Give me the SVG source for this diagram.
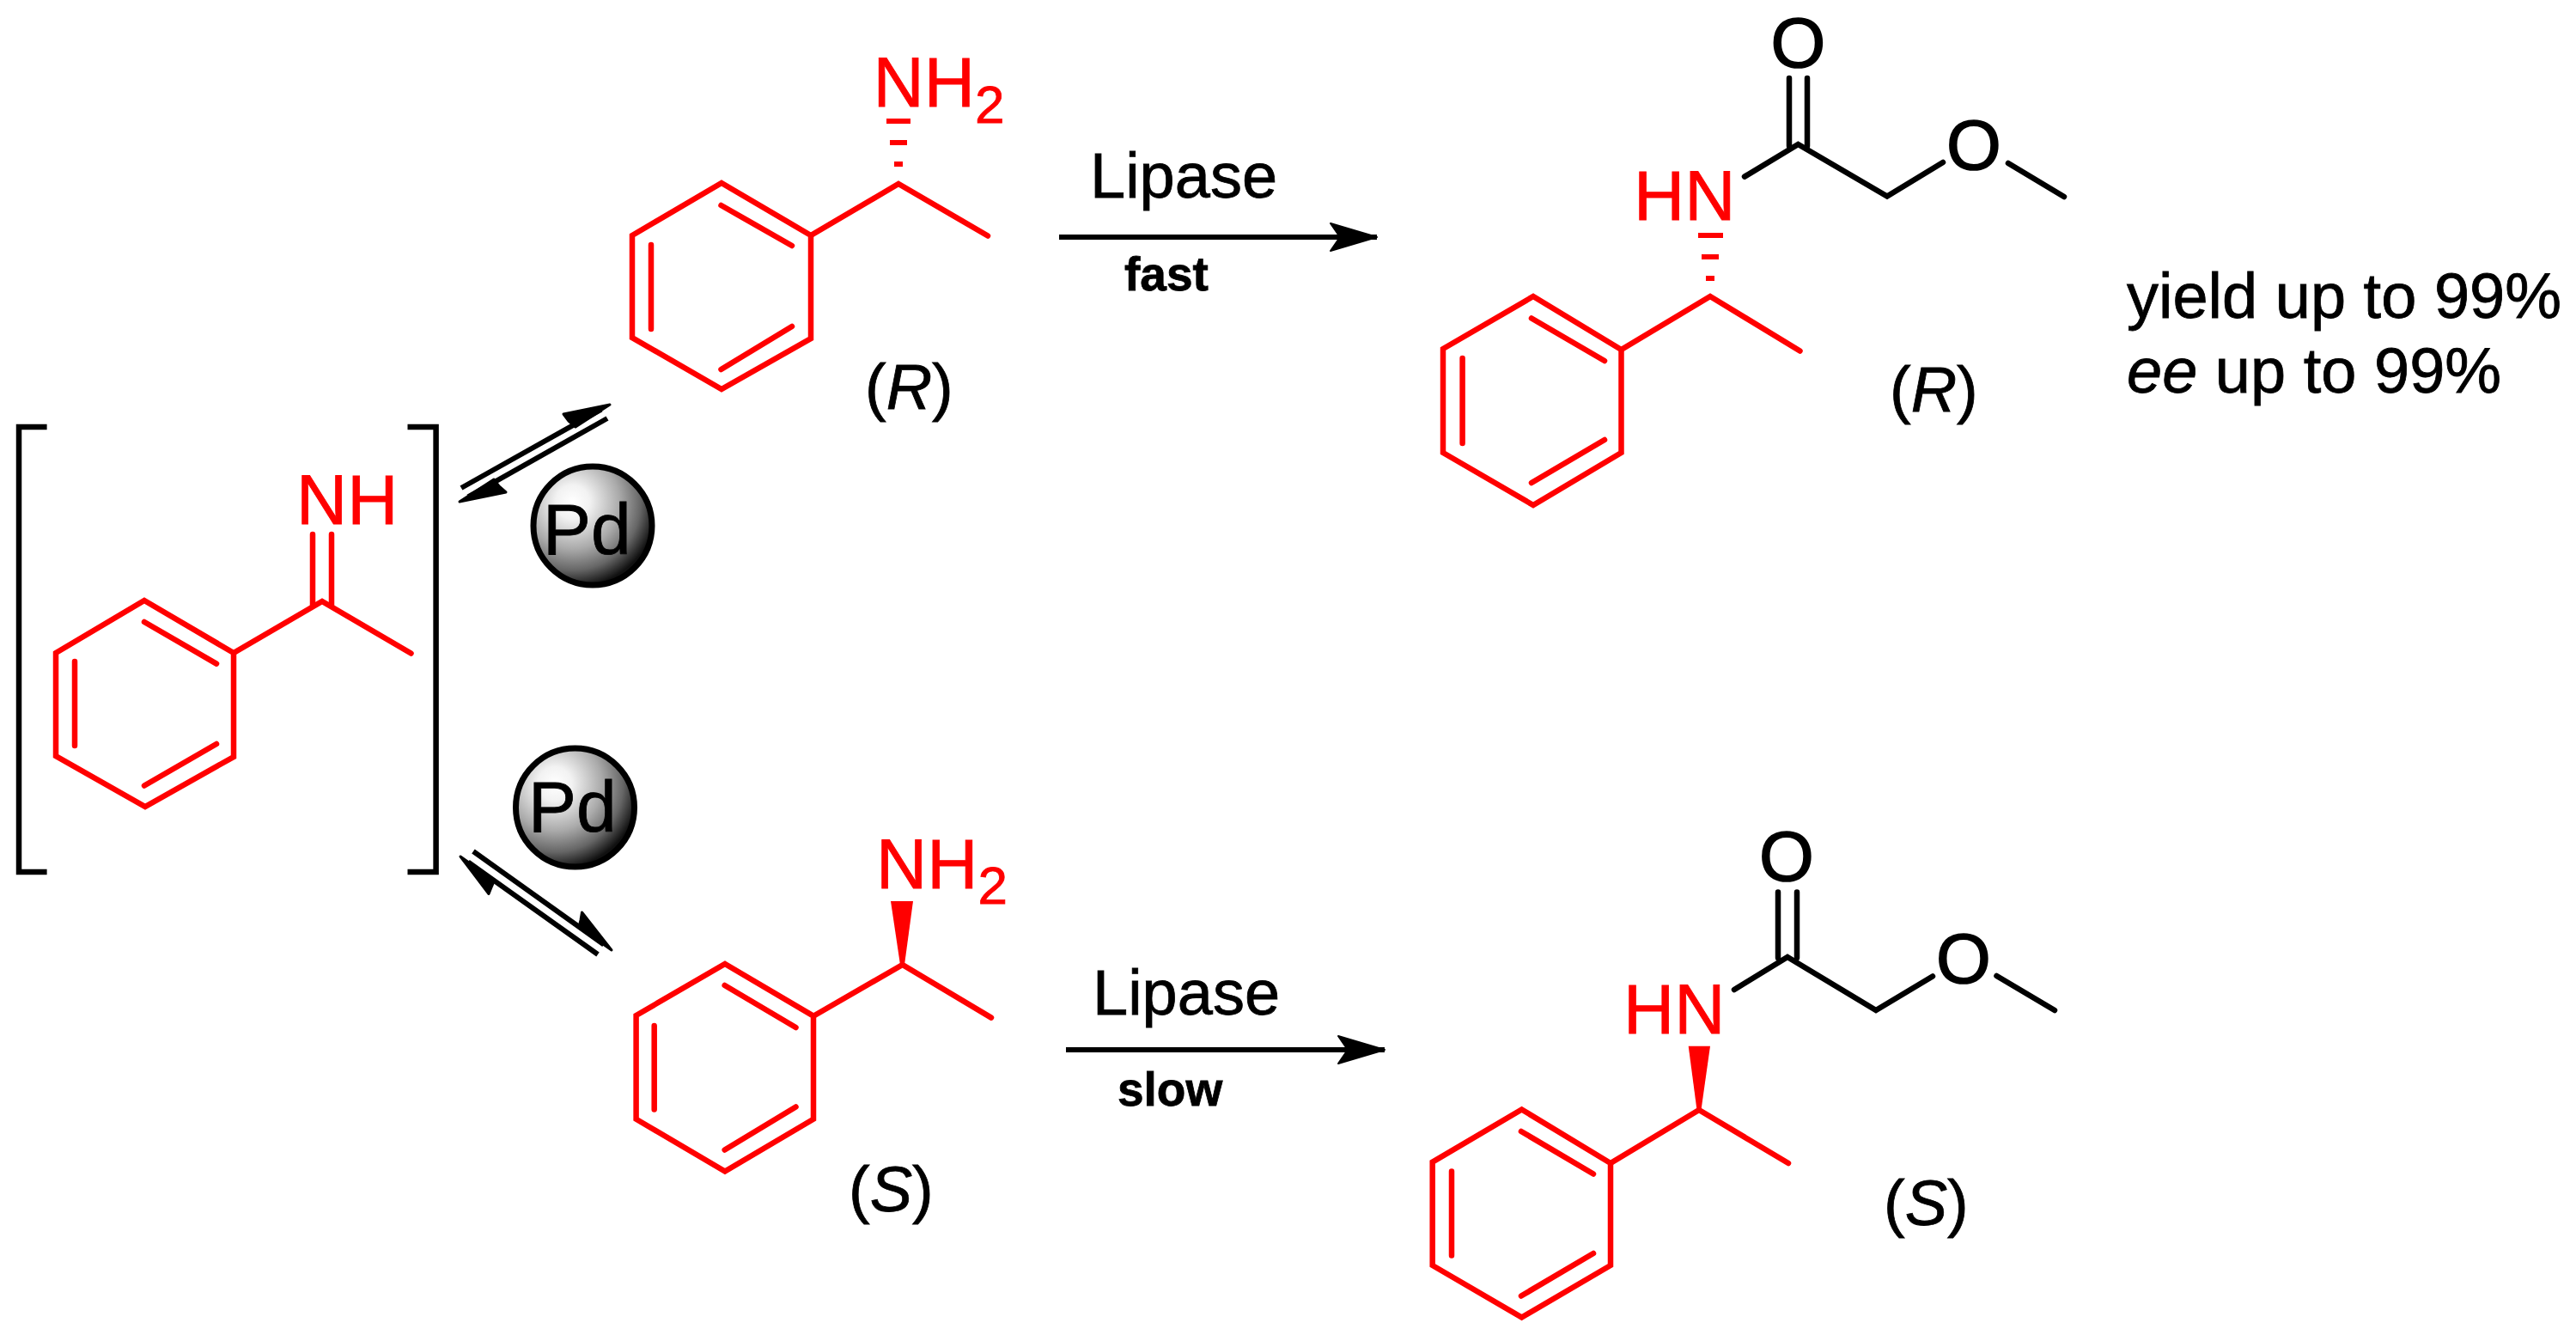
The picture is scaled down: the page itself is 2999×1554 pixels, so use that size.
<svg xmlns="http://www.w3.org/2000/svg" width="2999" height="1554" viewBox="0 0 2999 1554">
<style>
text{font-family:"Liberation Sans",Arial,sans-serif;font-size:74px;fill:#000;stroke:#000;stroke-width:0.8px}
.r{fill:none;stroke:#f00;stroke-width:6.5;stroke-linejoin:miter;stroke-linecap:round}
.k{fill:none;stroke:#000;stroke-width:6.5;stroke-linecap:round;stroke-linejoin:miter}
text.a{font-size:82px;fill:#f00;stroke:#f00}
text.o{font-size:82px;stroke-width:1.6px}
.s{font-size:62px}
.w{fill:#f00;stroke:none}
text.b{font-weight:bold;font-size:55px}
text.y{font-size:74px}
.br{fill:none;stroke:#000;stroke-width:6.5;stroke-linecap:butt;stroke-linejoin:miter}
.ln{fill:none;stroke:#000;stroke-width:6}
.hd{fill:#000;stroke:#000;stroke-width:3;stroke-linejoin:round}
.ball{fill:url(#sph);stroke:#000;stroke-width:7}
text.pd{font-size:84px}
</style>
<defs>
<radialGradient id="sph" cx="0.33" cy="0.3" r="0.72">
<stop offset="0" stop-color="#fff"/>
<stop offset="0.2" stop-color="#f2f2f2"/>
<stop offset="0.55" stop-color="#aaa"/>
<stop offset="0.8" stop-color="#666"/>
<stop offset="1" stop-color="#111"/>
</radialGradient>
<marker id="ah" markerUnits="userSpaceOnUse" markerWidth="60" markerHeight="40" refX="54" refY="20" orient="auto" overflow="visible">
<path d="M54,20 L0,4 L11,20 L0,36 Z" fill="#000" stroke="#000" stroke-width="2" stroke-linejoin="round"/>
</marker>
</defs>

<g id="imine-intermediate">
<path class="br" d="M54.6,497 H22 V1015 H54.6"/>
<path class="br" d="M474.5,497 H507.6 V1015 H474.5"/>
<path class="r" d="M168,699 L272,760 V881 L169,939 L65,880 V760 Z"/>
<path class="r" d="M168,724 L252,772.6 M87,770 V868 M168,914.5 L252,866"/>
<path class="r" d="M272,760 L375,700 L478.5,760.5"/>
<path class="r" d="M364,622 V705 M386,622 V705"/>
<text class="a" x="345" y="609.6">NH</text>
</g>

<g id="pd-top">
<circle class="ball" cx="690" cy="612" r="69"/>
<text class="pd" x="632" y="645">Pd</text>
</g>
<g id="pd-bottom">
<circle class="ball" cx="669.5" cy="940" r="69"/>
<text class="pd" x="615" y="968">Pd</text>
</g>

<g id="amine-R">
<path class="r" d="M840,213 L944,274 V394 L840,453 L736,393 V274 Z"/>
<path class="r" d="M839.5,239 L922,286 M758,285 V383 M839.5,430 L922,380"/>
<path class="r" d="M944,274 L1046,214 L1150,274.5"/>
<rect class="w" x="1032" y="138" width="28" height="6"/>
<rect class="w" x="1036" y="163" width="20" height="6"/>
<rect class="w" x="1041" y="188" width="10" height="6"/>
<text class="a" x="1016.5" y="123.5">NH<tspan class="s" dy="19.5">2</tspan></text>
<text x="1007" y="475.5">(<tspan font-style="italic">R</tspan>)</text>
</g>

<g id="amine-S">
<path class="r" d="M844,1122 L947,1182.7 V1302.7 L844,1363.5 L740.6,1302.7 V1182 Z"/>
<path class="r" d="M843.7,1147 L926.5,1196 M761.7,1194 V1291.5 M843.7,1338.5 L926.5,1288.5"/>
<path class="r" d="M947,1182.7 L1050.7,1123 L1154,1184.6"/>
<polygon class="w" points="1037,1049 1063,1049 1053,1123 1048,1123"/>
<text class="a" x="1020" y="1033.5">NH<tspan class="s" dy="18.5">2</tspan></text>
<text x="988" y="1409.6">(<tspan font-style="italic">S</tspan>)</text>
</g>

<g id="amide-R">
<path class="r" d="M1785,345 L1887.5,407 V527 L1785,588 L1680,527 V406 Z"/>
<path class="r" d="M1783,370.5 L1868,420 M1702.6,417 V516 M1783,562 L1868,512"/>
<path class="r" d="M1887.5,407 L1991,345 L2095.5,408.5"/>
<rect class="w" x="1977" y="271" width="29" height="6"/>
<rect class="w" x="1981" y="296" width="20" height="6"/>
<rect class="w" x="1986" y="321" width="10" height="6"/>
<text class="a" x="1902" y="256">HN</text>
<path class="k" d="M2083,91 V170 M2104,91 V170"/>
<path class="k" d="M2031,205.6 L2093.4,168 L2197,228.5 L2262,189"/>
<path class="k" d="M2338,190 L2403,229"/>
<text class="o" x="2061.5" y="78">O</text>
<text class="o" x="2266" y="197">O</text>
<text x="2200" y="479">(<tspan font-style="italic">R</tspan>)</text>
</g>

<g id="amide-S">
<path class="r" d="M1771.6,1291.5 L1875,1354 V1473 L1771.6,1533.5 L1667.7,1473 V1352.7 Z"/>
<path class="r" d="M1771,1317 L1855,1366.5 M1690,1363.5 V1461.5 M1771,1508.5 L1855,1459"/>
<path class="r" d="M1875,1354 L1978,1292 L2082,1354"/>
<polygon class="w" points="1965.7,1217.7 1991,1217.7 1980.5,1292 1975.5,1292"/>
<text class="a" x="1890" y="1203">HN</text>
<path class="k" d="M2070,1038.5 V1115 M2092,1038.5 V1115"/>
<path class="k" d="M2019,1152 L2081,1114 L2184,1176 L2250,1136.5"/>
<path class="k" d="M2324.5,1136 L2392,1176"/>
<text class="o" x="2048" y="1025">O</text>
<text class="o" x="2254" y="1144">O</text>
<text x="2193" y="1426">(<tspan font-style="italic">S</tspan>)</text>
</g>

<g id="connectors">
<path class="ln" d="M1233,276 H1603" marker-end="url(#ah)"/>
<path class="ln" d="M1241,1222 H1612" marker-end="url(#ah)"/>
<path class="ln" d="M537,568 L700,476.6"/>
<polygon class="hd" points="710,471 656,482 662,490 670,497"/>
<path class="ln" d="M707,487 L545,578.4"/>
<polygon class="hd" points="535,584 575,558 581,566 589,573"/>
<path class="ln" d="M551,991 L703,1099.5"/>
<polygon class="hd" points="712,1106 677.5,1062 676,1071 674,1079"/>
<path class="ln" d="M696,1111 L545,1003.5"/>
<polygon class="hd" points="536,997 569,1040.5 572,1033 575.5,1025"/>
</g>

<g id="labels">
<text x="1269" y="229.6">Lipase</text>
<text class="b" x="1309" y="338">fast</text>
<text x="1272" y="1180.8">Lipase</text>
<text class="b" x="1301" y="1287">slow</text>
<text class="y" x="2476" y="369.7">yield up to 99%</text>
<text class="y" x="2476" y="456.7"><tspan font-style="italic">ee</tspan> up to 99%</text>
</g>
</svg>
